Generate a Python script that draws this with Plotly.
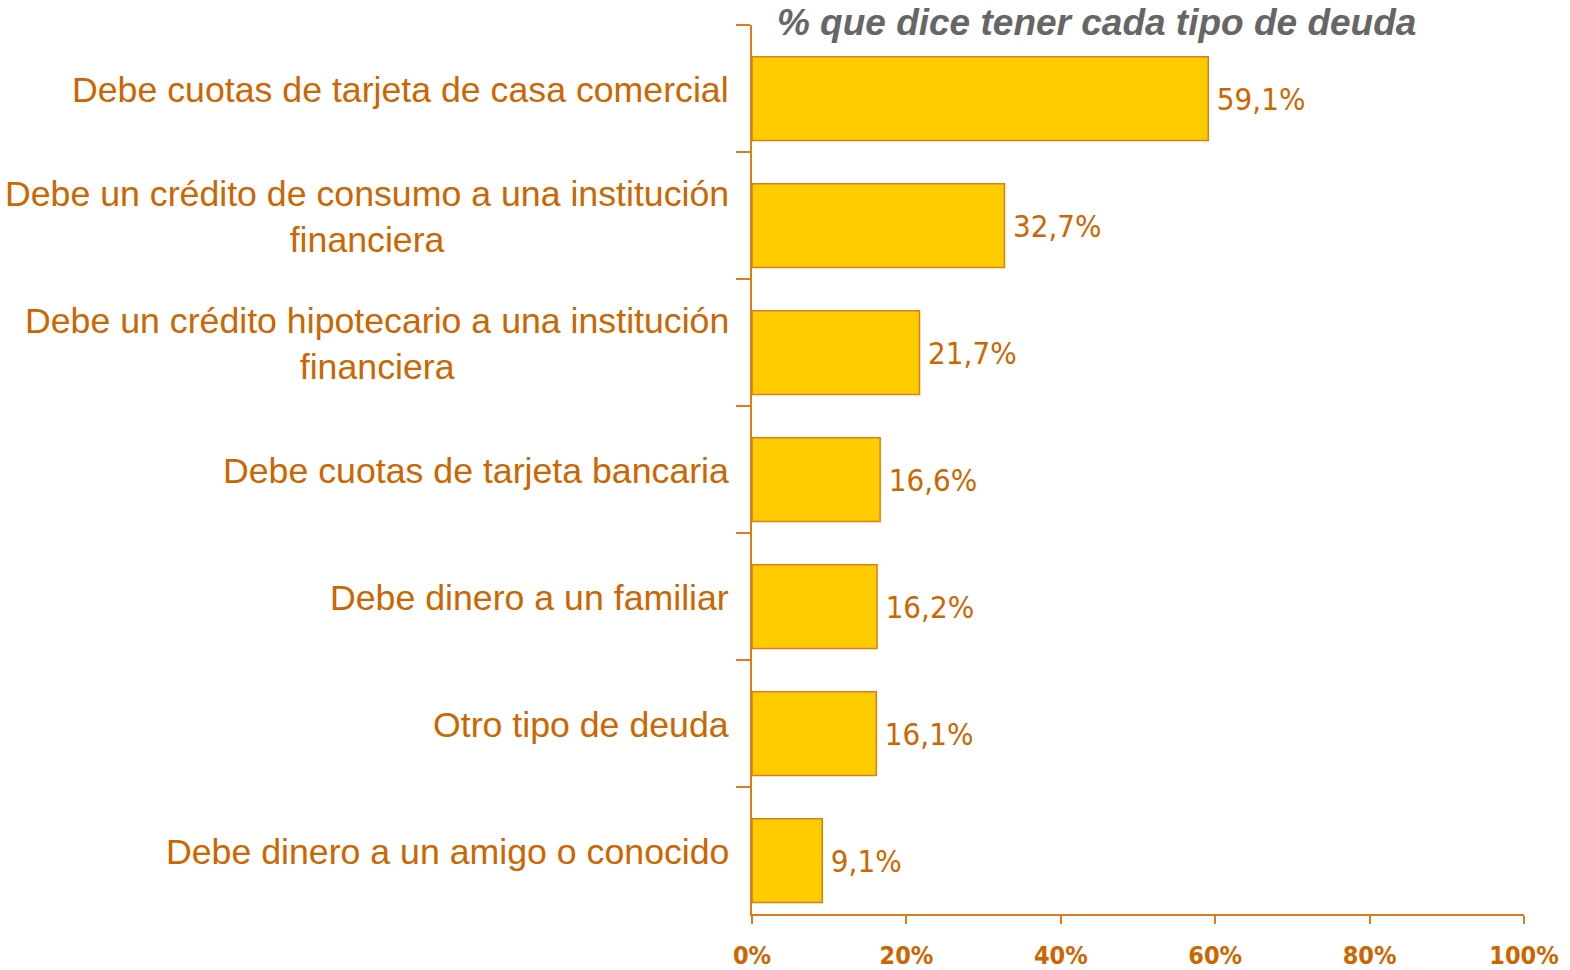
import plotly.graph_objects as go

categories = [
    "Debe cuotas de tarjeta de casa comercial",
    "Debe un crédito de consumo a una institución<br>financiera",
    "Debe un crédito hipotecario a una institución<br>financiera",
    "Debe cuotas de tarjeta bancaria",
    "Debe dinero a un familiar",
    "Otro tipo de deuda",
    "Debe dinero a un amigo o conocido",
]
values = [59.1, 32.7, 21.7, 16.6, 16.2, 16.1, 9.1]
x_ticks = [0, 20, 40, 60, 80, 100]
x_tick_labels = [f"{t}%" for t in x_ticks]
title_text = "% que dice tener cada tipo de deuda"

labels = ["\u2009" + f"{v:.1f}".replace(".", ",") + "%" for v in values]

ORANGE = "#CC6600"
LINE = "#E07B1A"
NARROW = "DejaVu Sans Condensed, Liberation Sans"

fig = go.Figure()
fig.add_trace(go.Bar(
    y=categories, x=values, orientation="h",
    width=0.66, offset=-0.25,
    marker=dict(color="#FFCC00", line=dict(color=LINE, width=1.5)),
    text=labels, textposition="outside", cliponaxis=False,
    textfont=dict(family=NARROW, size=31, color=ORANGE),
    hoverinfo="skip",
))

for c in categories:
    fig.add_annotation(
        x=0, xref="paper", y=c, yref="y", xanchor="right", xshift=-21, yshift=-1,
        text=c, showarrow=False, align="center",
        font=dict(family="Liberation Sans, Arial", size=35.7, color=ORANGE),
    )

fig.update_layout(
    width=1570, height=970,
    margin=dict(l=752, r=46, t=25, b=56, autoexpand=False),
    plot_bgcolor="white", paper_bgcolor="white",
    showlegend=False,
    title=dict(text=title_text, x=0.6985, xanchor="center", y=1 - 22 / 970, yanchor="middle",
               font=dict(family="Liberation Sans, Arial", size=37, color="#666666", weight="bold", style="italic")),
)
fig.update_xaxes(
    range=[0, 100], tickvals=x_ticks, ticktext=x_tick_labels, automargin=False,
    showgrid=False, zeroline=False, showline=True, linecolor=LINE, linewidth=1.5,
    ticks="outside", ticklen=8, tickcolor=LINE, tickwidth=1.5,
    tickfont=dict(family=NARROW, size=25, color=ORANGE, weight="bold"),
    ticklabelstandoff=10,
)
fig.update_yaxes(
    autorange="reversed", showticklabels=False, showgrid=False, automargin=False,
    showline=True, linecolor=LINE, linewidth=1.5,
    ticks="outside", ticklen=14, tickcolor=LINE, tickwidth=1.5, tickson="boundaries",
)

fig.write_html("out.html", config={"displayModeBar": False},
               post_script="document.body.style.margin='0';document.body.style.overflow='hidden';")
